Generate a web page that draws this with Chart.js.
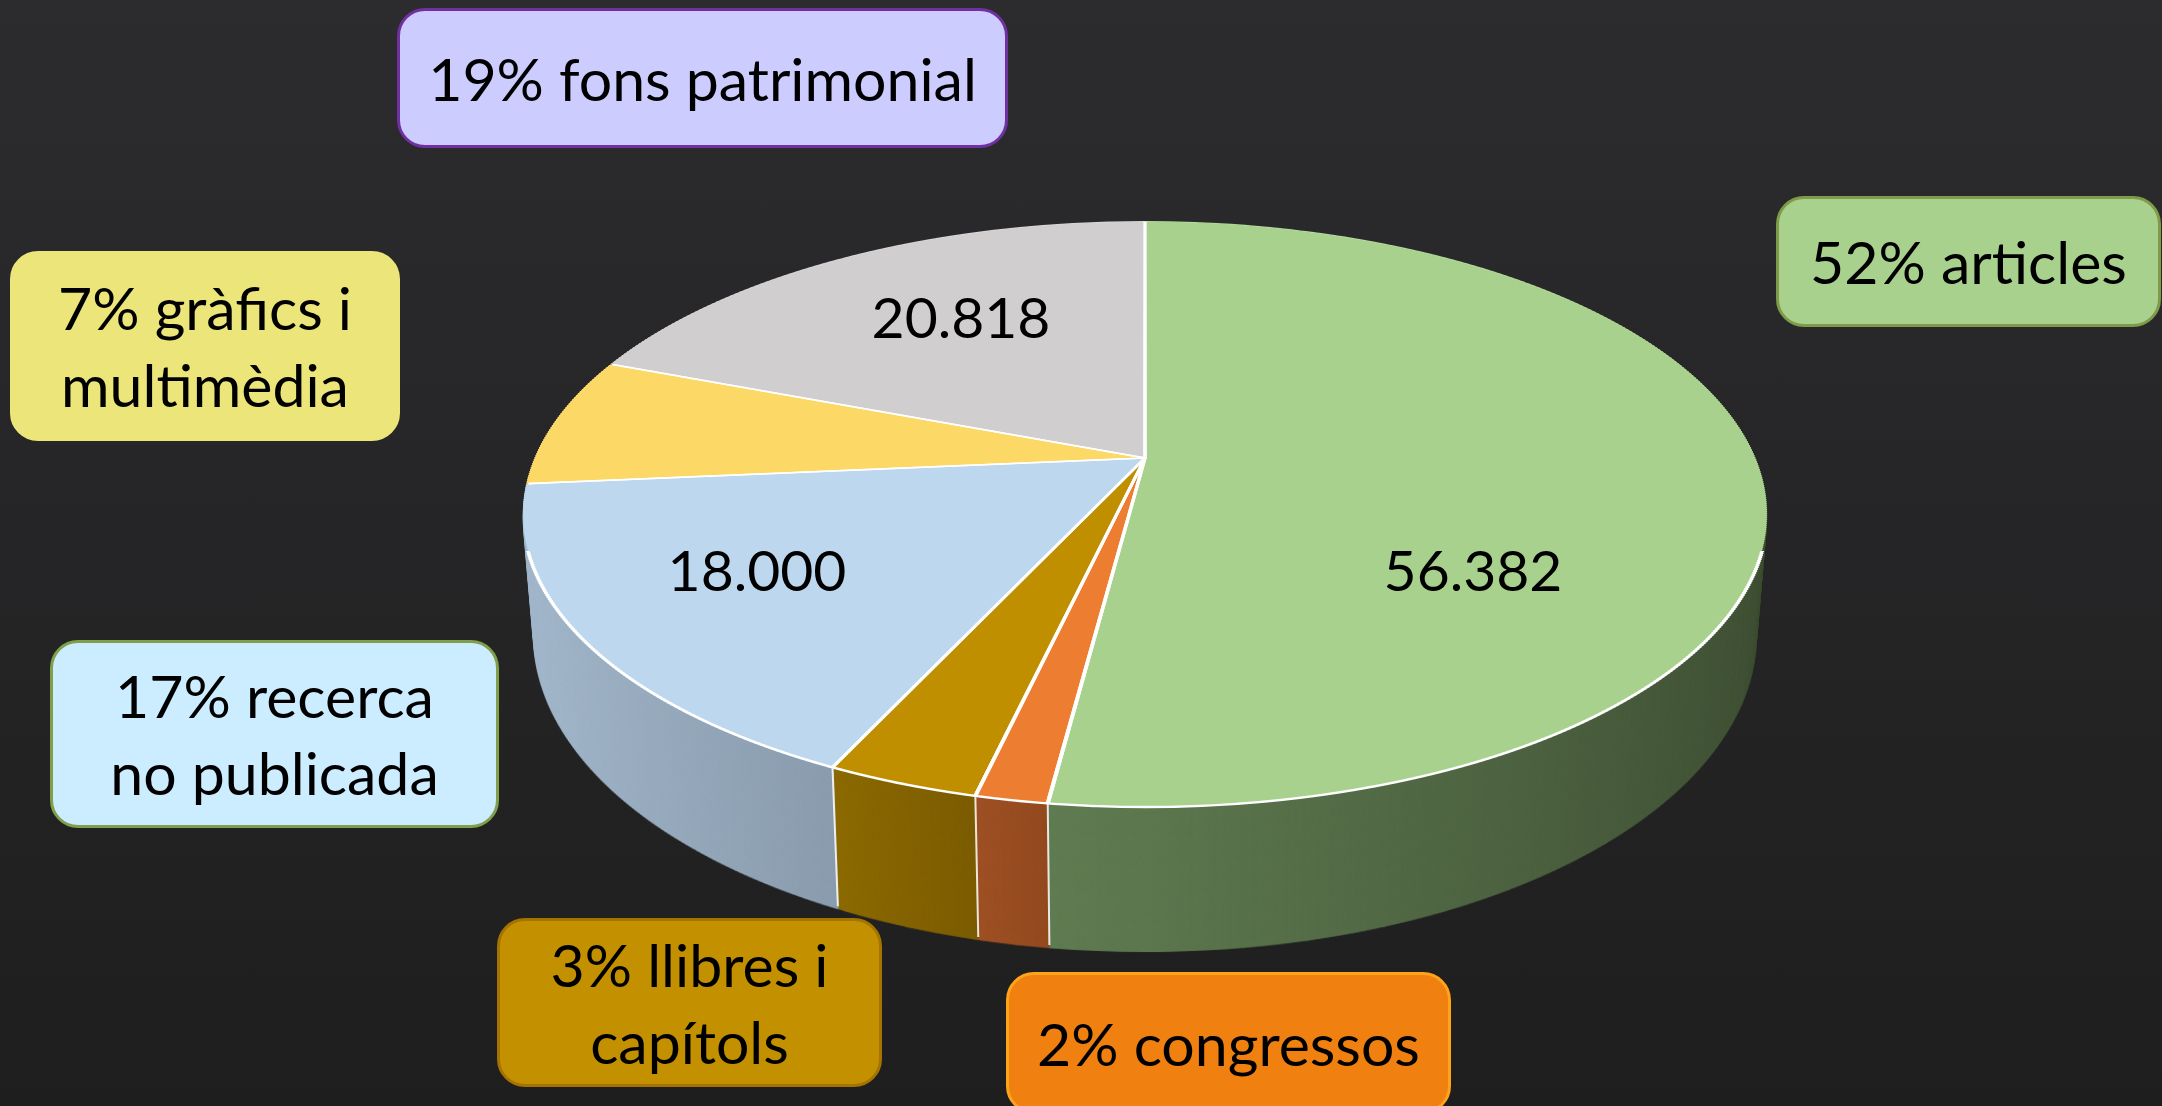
<!DOCTYPE html>
<html>
<head>
<meta charset="utf-8">
<script src="https://cdn.jsdelivr.net/npm/chart.js@4.4.1/dist/chart.umd.min.js"></script>
<style>
    html, body { margin: 0; padding: 0; }
    body {
        width: 2162px; height: 1106px; overflow: hidden; position: relative;
        background: linear-gradient(#2c2c2e, #1e1e1f);
        font-family: Lato, "Open Sans", sans-serif;
    }
    #wrap { position: absolute; left: 0; top: 0; width: 2162px; height: 1106px; }
    .tag {
        position: absolute; box-sizing: border-box; border: 3px solid; border-radius: 28px;
        display: flex; align-items: center; justify-content: center; text-align: center;
        font-size: 59px; line-height: 77px; color: #000;
    }
    .val { position: absolute; font-size: 57px; color: #000; transform: translate(-50%, -50%); white-space: nowrap; }
</style>
</head>
<body>
<div id="wrap"><canvas id="pieChart"></canvas></div>
<script>
// data, clockwise from 12 o'clock
var categories = ['articles', 'congressos', 'llibres i capítols', 'recerca no publicada', 'gràfics i multimèdia', 'fons patrimonial'];
var documents = [56382, 1700, 3600, 18000, 7800, 20818];

// colours of the top face and of the side wall (gradient stops across the disc)
var sliceColors = ['#a9d18e', '#ed7d31', '#bf8f00', '#bdd7ee', '#fcd866', '#d0cece'];
var sideShades = [
    [[0.435, '#607c52'], [1, '#3f4f34']],
    [[0.39, '#9e5024'], [0.435, '#934a1f']],
    [[0.29, '#8c6a00'], [0.39, '#7b5c00']],
    [[0, '#a6bbcf'], [0.29, '#8a9cae']],
    [[0, '#a08a40'], [1, '#806d30']],
    [[0, '#8a8989'], [1, '#6e6d6d']]
];

// label boxes: position, size, colours, words on first line
var tagLayout = [
    { left: 1776, top: 196, w: 385, h: 131, fill: '#a9d18e', line: '#7f9a48', br: 0 },
    { left: 1006, top: 972, w: 445, h: 142, fill: '#f08010', line: '#ffa31a', br: 0 },
    { left: 497, top: 918, w: 385, h: 169, fill: '#c39000', line: '#a57300', br: 3 },
    { left: 50, top: 640, w: 449, h: 188, fill: '#ccecff', line: '#7f9f4a', br: 2 },
    { left: 10, top: 251, w: 390, h: 190, fill: '#ebe57a', line: '#ebe57a', br: 3 },
    { left: 397, top: 8, w: 611, h: 140, fill: '#ccccff', line: '#7030a0', br: 0 }
];
// value labels on the top face (null = no label)
var valuePos = [[1473, 569], null, null, [757, 569], null, [961, 316]];

// tilted disc seen in perspective: centre x, top / apex / bottom y, half width, wall height at front
var VIEW = { x: 1145, top: 221, apex: 458, bottom: 807, rx: 622, depth: 145, vanish: 7100, rimStart: 550 };
var STRIP = 2;
var LAYERS = 150;

var total = documents.reduce(function(a, b) { return a + b; }, 0);

function fmt(v) {
    return String(v).replace(/\B(?=(\d{3})+(?!\d))/g, '.');
}

// label boxes and values
var wrap = document.getElementById('wrap');
categories.forEach(function(name, i) {
    var t = tagLayout[i];
    var words = (Math.round(documents[i] / total * 100) + '% ' + name).split(' ');
    var box = document.createElement('div');
    box.className = 'tag';
    box.style.left = t.left + 'px';
    box.style.top = t.top + 'px';
    box.style.width = t.w + 'px';
    box.style.height = t.h + 'px';
    box.style.background = t.fill;
    box.style.borderColor = t.line;
    var span = document.createElement('span');
    if (t.br) {
        span.appendChild(document.createTextNode(words.slice(0, t.br).join(' ')));
        span.appendChild(document.createElement('br'));
        span.appendChild(document.createTextNode(words.slice(t.br).join(' ')));
    } else {
        span.textContent = words.join(' ');
    }
    box.appendChild(span);
    wrap.appendChild(box);

    if (valuePos[i]) {
        var v = document.createElement('div');
        v.className = 'val';
        v.style.left = valuePos[i][0] + 'px';
        v.style.top = valuePos[i][1] + 'px';
        v.textContent = fmt(documents[i]);
        wrap.appendChild(v);
    }
});

// draws the pie arcs as a tilted disc in perspective, with a front wall
var pie3d = {
    id: 'pie3d',
    beforeDatasetsDraw: function(chart) {
        var ctx = chart.ctx;
        var arcs = chart.getDatasetMeta(0).data;
        if (!arcs.length) return;
        var cx0 = arcs[0].x, cy0 = arcs[0].y, R = arcs[0].outerRadius;
        var W = chart.width, H = chart.height;

        // v = -1 back edge, 0 centre, 1 front edge
        var c = (2 * VIEW.apex - VIEW.top - VIEW.bottom) / (VIEW.bottom - VIEW.top);
        var a = VIEW.bottom * (1 + c) - VIEW.apex;
        var k = VIEW.rx * Math.sqrt(1 - c * c);
        function screenY(v) { return (a * v + VIEW.apex) / (1 + c * v); }
        function screenX(u, v) { return VIEW.x + k * u / (1 + c * v); }
        function discV(y) { return (y - VIEW.apex) / (a - c * y); }
        var yWide = screenY(-c);
        var wallWide = VIEW.depth / (1 - c);
        var wallSlope = (VIEW.depth - wallWide) / (VIEW.bottom - yWide);

        function drawArcs(g, style) {
            arcs.forEach(function(arc, i) {
                var saved = arc.options;
                arc.options = Object.assign({}, saved, style(i));
                arc.draw(g);
                arc.options = saved;
            });
        }

        // thin horizontal strips, each with its own affine map
        function drawDisc(g, fill, withBorder) {
            for (var y0 = Math.floor(VIEW.top) - 2; y0 < VIEW.bottom + 2; y0 += STRIP) {
                var y1 = y0 + STRIP;
                var v0 = discV(y0), v1 = discV(y1), vm = (v0 + v1) / 2;
                var sx = k / (R * (1 + c * vm));
                var sy = (y1 - y0) / ((v1 - v0) * R);
                g.save();
                g.beginPath();
                g.rect(0, y0, W, y1 - y0);
                g.clip();
                g.translate(VIEW.x, y0 - sy * v0 * R);
                g.scale(sx, sy);
                g.translate(-cx0, -cy0);
                drawArcs(g, function(i) { return { backgroundColor: fill(i), borderWidth: 0 }; });
                if (withBorder) {
                    if (y0 < VIEW.rimStart) {
                        g.beginPath();
                        g.arc(cx0, cy0, R - 2, 0, Math.PI * 2);
                        g.clip();
                    }
                    drawArcs(g, function() { return { backgroundColor: 'rgba(0,0,0,0)' }; });
                }
                g.restore();
            }
        }

        // wall: the disc in wall colours, stacked downwards
        var off = document.createElement('canvas');
        off.width = W;
        off.height = H;
        var octx = off.getContext('2d');
        var sideFill = sideShades.map(function(stops) {
            var grad = octx.createLinearGradient(cx0 - R, 0, cx0 + R, 0);
            stops.forEach(function(s) { grad.addColorStop(s[0], s[1]); });
            return grad;
        });
        drawDisc(octx, function(i) { return sideFill[i]; }, false);

        var srcY = Math.floor(yWide - 40), srcH = VIEW.bottom + 4 - srcY;
        for (var n = LAYERS; n >= 1; n--) {
            var t = n / LAYERS;
            var f = 1 - t * wallWide / VIEW.vanish;
            var gy = 1 + t * wallSlope;
            var e = t * (wallWide - wallSlope * yWide);
            ctx.drawImage(off, 0, srcY, W, srcH, VIEW.x * (1 - f), srcY * gy + e, W * f, srcH * gy);
        }

        // white seams on the wall
        ctx.save();
        ctx.strokeStyle = 'rgba(255,255,255,0.85)';
        ctx.lineWidth = 2;
        arcs.forEach(function(arc) {
            var u = Math.cos(arc.startAngle), v = Math.sin(arc.startAngle);
            if (v <= -c + 0.05) return;
            var x = screenX(u, v), y = screenY(v);
            var f1 = 1 - wallWide / VIEW.vanish;
            ctx.beginPath();
            ctx.moveTo(x, y);
            ctx.lineTo(VIEW.x + (x - VIEW.x) * f1, y + wallWide + wallSlope * (y - yWide) - 3);
            ctx.stroke();
        });
        ctx.restore();

        // top face
        drawDisc(ctx, function(i) { return arcs[i].options.backgroundColor; }, true);

        return false;
    }
};

var pieChart = new Chart(document.getElementById('pieChart').getContext('2d'), {
    type: 'pie',
    data: {
        labels: categories,
        datasets: [{
            data: documents,
            backgroundColor: sliceColors,
            borderColor: '#ffffff',
            borderWidth: 3
        }]
    },
    options: {
        responsive: true,
        maintainAspectRatio: false,
        animation: false,
        events: [],
        plugins: {
            legend: { display: false },
            tooltip: { enabled: false }
        }
    },
    plugins: [pie3d]
});
</script>
</body>
</html>
